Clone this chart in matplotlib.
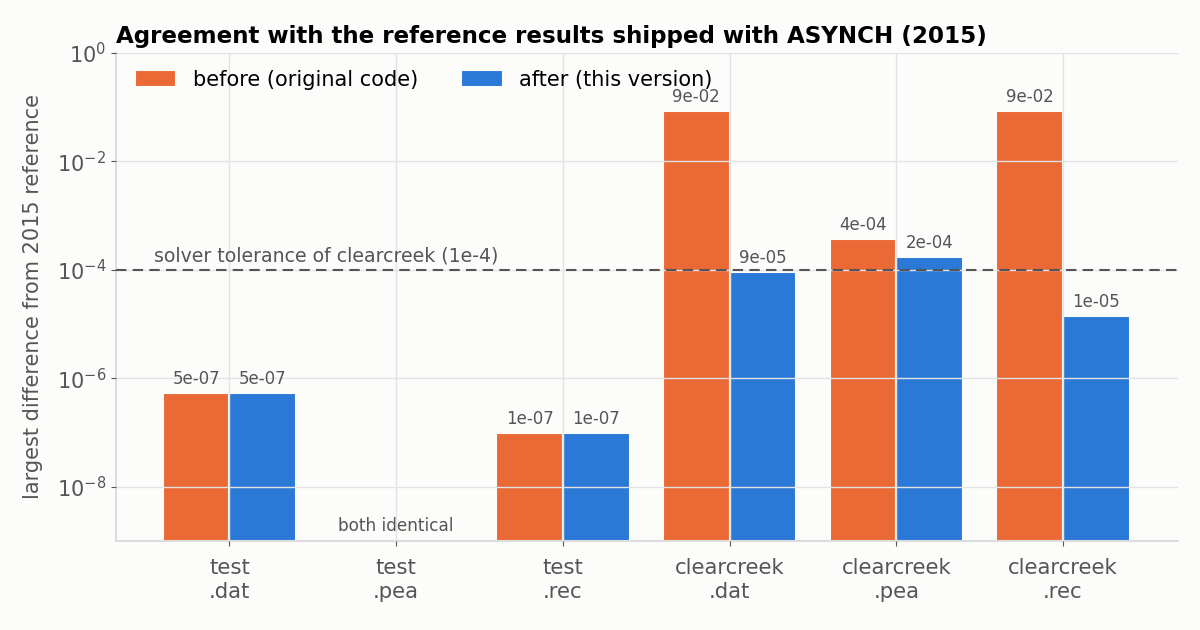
import numpy as np
import matplotlib.pyplot as plt

# Données
categories = ['test\n.dat', 'test\n.pea', 'test\n.rec',
              'clearcreek\n.dat', 'clearcreek\n.pea', 'clearcreek\n.rec']
before = [5.3e-7, np.nan, 1.0e-7, 8.6e-2, 3.7e-4, 8.6e-2]
after = [5.3e-7, np.nan, 1.0e-7, 9.2e-5, 1.75e-4, 1.4e-5]
tolerance = 1e-4

bg = '#fcfcfb'
c_before = '#ea6935'
c_after = '#2a79d6'
txt = '#555555'

fig = plt.figure(figsize=(12, 6.3), dpi=100, facecolor=bg)
ax = fig.add_axes([0.0967, 0.1413, 0.885, 0.7746], facecolor=bg)

x = np.arange(len(categories))
w = 0.4
b1 = ax.bar(x - w / 2, before, w, color=c_before, edgecolor=bg, linewidth=1.5,
            label='before (original code)', zorder=1)
b2 = ax.bar(x + w / 2, after, w, color=c_after, edgecolor=bg, linewidth=1.5,
            label='after (this version)', zorder=1)

ax.set_yscale('log')
ax.set_ylim(1e-9, 1)
ax.set_xlim(-0.68, 5.69)

# étiquettes des valeurs
for bars, vals in [(b1, before), (b2, after)]:
    for rect, v in zip(bars, vals):
        if np.isnan(v):
            continue
        ax.annotate('%.0e' % v, (rect.get_x() + rect.get_width() / 2, v),
                    xytext=(0, 3.5), textcoords='offset points',
                    ha='center', va='bottom', fontsize=12, color=txt)

ax.text(1, 1.9e-9, 'both identical', ha='center', va='center',
        fontsize=12.2, color=txt)

ax.axhline(tolerance, color='#555555', linestyle=(0, (5, 3)), linewidth=1.5, zorder=3)
ax.text(-0.45, tolerance * 1.2, 'solver tolerance of clearcreek (1e-4)',
        ha='left', va='bottom', fontsize=13.6, color=txt)

ax.set_xticks(x)
ax.set_xticklabels(categories, fontsize=15.3, color=txt)
ax.tick_params(axis='y', labelsize=15, labelcolor=txt, color=txt)
ax.tick_params(axis='x', color=txt, pad=9)
ax.set_yticks([1e-8, 1e-6, 1e-4, 1e-2, 1e0])
ax.minorticks_off()
ax.set_ylabel('largest difference from 2015 reference', fontsize=15, color=txt,
              labelpad=10)

ax.grid(True, color='#e3e3e3', linewidth=1, zorder=2)
ax.set_axisbelow(False)
for s in ['top', 'right']:
    ax.spines[s].set_visible(False)
for s in ['left', 'bottom']:
    ax.spines[s].set_color('#dddddd')
    ax.spines[s].set_linewidth(1.5)

ax.legend(loc='upper left', ncol=2, frameon=False, fontsize=15,
          handlelength=2.0, handleheight=0.9, handletextpad=0.8,
          columnspacing=2.05, bbox_to_anchor=(0.0, 1.004))
ax.set_title('Agreement with the reference results shipped with ASYNCH (2015)',
             loc='left', fontsize=16.6, fontweight='bold', pad=7)

fig.savefig('out.png', dpi=100, facecolor=bg)
